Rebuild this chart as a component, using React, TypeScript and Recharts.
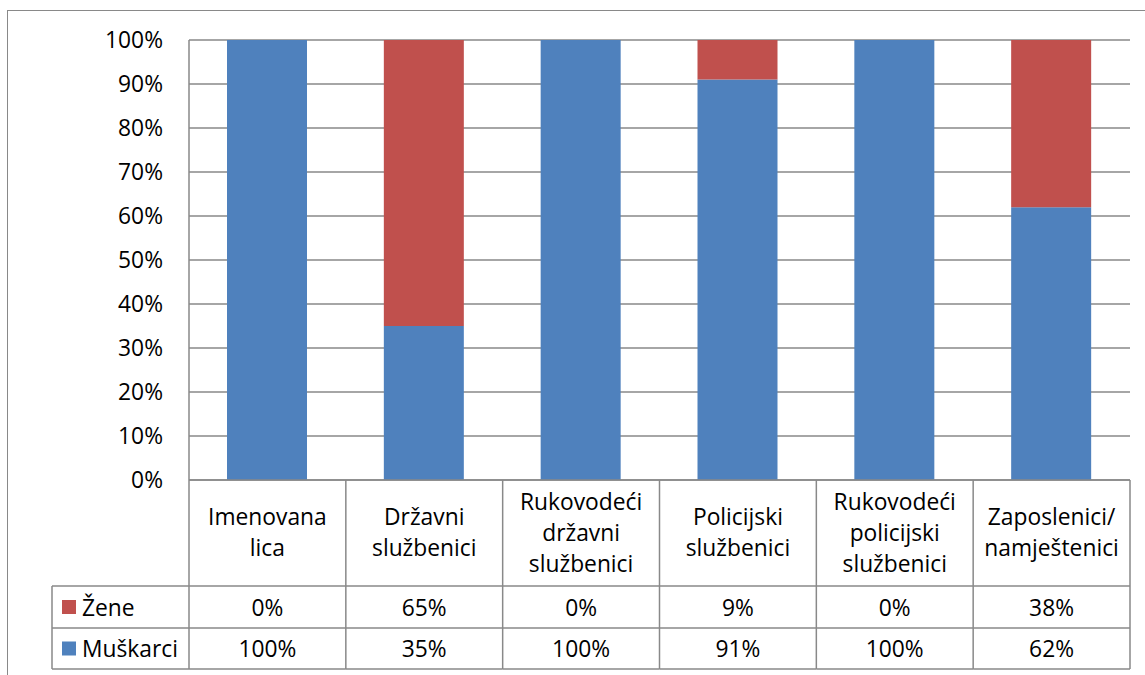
import React from "react";
import { BarChart, Bar, XAxis, YAxis, CartesianGrid } from "recharts";

const categories: string[] = [
  "Imenovana\nlica",
  "Državni\nslužbenici",
  "Rukovodeći\ndržavni\nslužbenici",
  "Policijski\nslužbenici",
  "Rukovodeći\npolicijski\nslužbenici",
  "Zaposlenici/\nnamještenici",
];
const zene: number[] = [0, 0.65, 0, 0.09, 0, 0.38];
const muskarci: number[] = [1, 0.35, 1, 0.91, 1, 0.62];
const yTicks: number[] = [0, 0.1, 0.2, 0.3, 0.4, 0.5, 0.6, 0.7, 0.8, 0.9, 1];
const seriesNames = { zene: "Žene", muskarci: "Muškarci" };

const data = categories.map((c, i) => ({ name: c, zene: zene[i], muskarci: muskarci[i] }));

const W = 1145;
const H = 675;
const PLOT_LEFT = 189;
const PLOT_RIGHT = 1130;
const PLOT_TOP = 40;
const PLOT_BOTTOM = 480;
const ROW1 = 586;
const ROW2 = 628;
const TABLE_BOTTOM = 669;
const LEGEND_LEFT = 52;
const BAND = (PLOT_RIGHT - PLOT_LEFT) / categories.length;
const GRID = "#898989";
const BLUE = "#4F81BD";
const RED = "#C0504D";
const FONT = "'Open Sans', sans-serif";
const FS = 22.8;
const LINE_H = 31;

const pct = (v: number) => `${Math.round(v * 100)}%`;

const TableTick = (props: any) => {
  const { x, payload, index } = props;
  const cx = x;
  const left = cx - BAND / 2;
  const right = cx + BAND / 2;
  const lines = String(payload.value).split("\n");
  const headerMid = (PLOT_BOTTOM + ROW1) / 2 - 1;
  const startY = headerMid - ((lines.length - 1) * LINE_H) / 2;
  const i = payload.index ?? index;
  const row1Mid = (ROW1 + ROW2) / 2;
  const row2Mid = (ROW2 + TABLE_BOTTOM) / 2;
  return (
    <g>
      <line x1={right} y1={PLOT_BOTTOM} x2={right} y2={TABLE_BOTTOM} stroke={GRID} strokeWidth={1.5} />
      <line x1={left} y1={ROW1} x2={right} y2={ROW1} stroke={GRID} strokeWidth={1.5} />
      <line x1={left} y1={ROW2} x2={right} y2={ROW2} stroke={GRID} strokeWidth={1.5} />
      <line x1={left} y1={TABLE_BOTTOM} x2={right} y2={TABLE_BOTTOM} stroke={GRID} strokeWidth={1.5} />
      {i === 0 && (
        <g>
          <line x1={left} y1={PLOT_BOTTOM} x2={left} y2={TABLE_BOTTOM} stroke={GRID} strokeWidth={1.5} />
          <line x1={LEGEND_LEFT} y1={ROW1} x2={left} y2={ROW1} stroke={GRID} strokeWidth={1.5} />
          <line x1={LEGEND_LEFT} y1={ROW2} x2={left} y2={ROW2} stroke={GRID} strokeWidth={1.5} />
          <line x1={LEGEND_LEFT} y1={TABLE_BOTTOM} x2={left} y2={TABLE_BOTTOM} stroke={GRID} strokeWidth={1.5} />
          <line x1={LEGEND_LEFT} y1={ROW1} x2={LEGEND_LEFT} y2={TABLE_BOTTOM} stroke={GRID} strokeWidth={1.5} />
          <rect x={62} y={row1Mid - 7} width={14} height={14} fill={RED} />
          <text x={82} y={row1Mid} dominantBaseline="central" fontFamily={FONT} fontSize={FS} fill="#000">
            {seriesNames.zene}
          </text>
          <rect x={62} y={row2Mid - 7} width={14} height={14} fill={BLUE} />
          <text x={82} y={row2Mid} dominantBaseline="central" fontFamily={FONT} fontSize={FS} fill="#000">
            {seriesNames.muskarci}
          </text>
        </g>
      )}
      {lines.map((ln, k) => (
        <text
          key={k}
          x={cx}
          y={startY + k * LINE_H}
          textAnchor="middle"
          dominantBaseline="central"
          fontFamily={FONT}
          fontSize={FS}
          fill="#000"
        >
          {ln}
        </text>
      ))}
      <text x={cx} y={row1Mid} textAnchor="middle" dominantBaseline="central" fontFamily={FONT} fontSize={FS} fill="#000">
        {pct(zene[i])}
      </text>
      <text x={cx} y={row2Mid} textAnchor="middle" dominantBaseline="central" fontFamily={FONT} fontSize={FS} fill="#000">
        {pct(muskarci[i])}
      </text>
    </g>
  );
};

export default function App() {
  return (
    <div
      style={{
        position: "absolute",
        left: 0,
        top: 0,
        width: W,
        height: H,
        overflow: "hidden",
        background: "#fff",
      }}
    >
      <div
        style={{
          position: "absolute",
          left: 7,
          top: 10,
          width: W + 20,
          height: H + 20,
          border: `1.5px solid ${GRID}`,
          boxSizing: "border-box",
        }}
      />
      <div style={{ position: "absolute", left: 0, top: 0 }}>
        <BarChart
          width={W}
          height={H}
          data={data}
          margin={{ top: PLOT_TOP, right: W - PLOT_RIGHT, left: 0, bottom: H - TABLE_BOTTOM }}
          barSize={80}
        >
          <CartesianGrid horizontal={true} vertical={false} stroke={GRID} strokeWidth={1.5} />
          <XAxis
            dataKey="name"
            interval={0}
            height={TABLE_BOTTOM - PLOT_BOTTOM}
            axisLine={{ stroke: GRID, strokeWidth: 1.5 }}
            tickLine={false}
            tick={(p: any) => <TableTick {...p} />}
          />
          <YAxis
            width={PLOT_LEFT}
            domain={[0, 1]}
            ticks={yTicks}
            interval={0}
            tickFormatter={pct}
            axisLine={{ stroke: GRID, strokeWidth: 1.5 }}
            tickLine={false}
            tickSize={0}
            tickMargin={26}
            tick={{ fill: "#000", fontSize: FS, fontFamily: FONT }}
          />
          <Bar dataKey="muskarci" stackId="a" fill={BLUE} isAnimationActive={false} />
          <Bar dataKey="zene" stackId="a" fill={RED} isAnimationActive={false} />
        </BarChart>
      </div>
    </div>
  );
}
